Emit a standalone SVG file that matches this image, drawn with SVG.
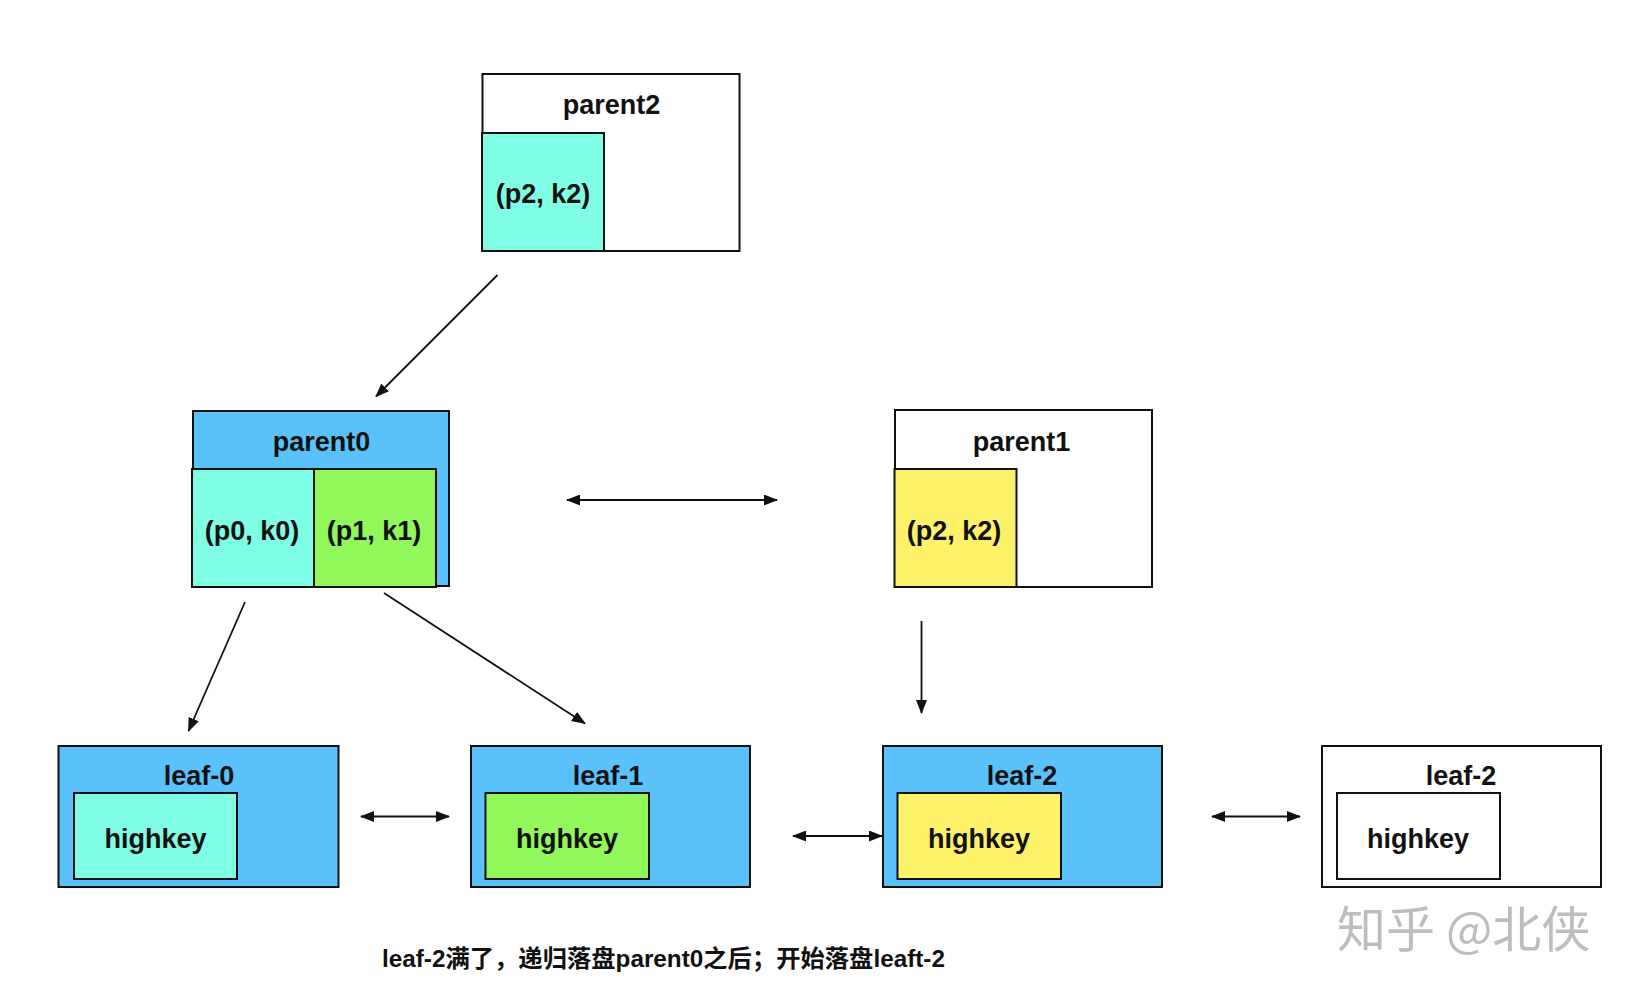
<svg xmlns="http://www.w3.org/2000/svg" width="1636" height="994" viewBox="0 0 1636 994">
<style>
.box{stroke:#111;stroke-width:2}
.lbl{font-family:"Liberation Sans",Arial,sans-serif;font-weight:bold;font-size:27px;fill:#111;text-anchor:middle}
.conn{stroke:#111;stroke-width:1.8;fill:none}
.cap{font-family:"Liberation Sans","Noto Sans CJK SC",sans-serif;font-weight:bold;font-size:24.3px;fill:#111}
.wm{font-family:"Noto Sans CJK SC",sans-serif;font-size:49px;fill:#bdbdbd}
</style>
<defs>
<marker id="ah" viewBox="0 0 14 11" refX="13" refY="5.5" markerWidth="14" markerHeight="11" markerUnits="userSpaceOnUse" orient="auto-start-reverse">
<path d="M0,0 L14,5.5 L0,11 Z" fill="#111"/>
</marker>
</defs>
<rect width="1636" height="994" fill="#fff"/>

<g id="parent2">
<rect class="box" x="482.5" y="74" width="257" height="177" fill="#fff"/>
<rect class="box" x="482" y="133" width="122" height="118" fill="#7ffde5"/>
<text class="lbl" x="611.5" y="114">parent2</text>
<text class="lbl" x="543" y="203">(p2, k2)</text>
</g>

<g id="parent0">
<rect class="box" x="193" y="411" width="256" height="175" fill="#5bc1fa"/>
<rect class="box" x="192" y="469" width="122" height="118" fill="#7ffde5"/>
<rect class="box" x="314" y="469" width="122" height="118" fill="#91f75b"/>
<text class="lbl" x="321.5" y="451">parent0</text>
<text class="lbl" x="252" y="540">(p0, k0)</text>
<text class="lbl" x="374" y="540">(p1, k1)</text>
</g>

<g id="parent1">
<rect class="box" x="895" y="410" width="257" height="177" fill="#fff"/>
<rect class="box" x="894.5" y="469" width="122" height="118" fill="#fef26a"/>
<text class="lbl" x="1021.5" y="451">parent1</text>
<text class="lbl" x="954" y="540">(p2, k2)</text>
</g>

<g id="leaf0">
<rect class="box" x="58.5" y="746" width="280" height="141" fill="#5bc1fa"/>
<rect class="box" x="74" y="793" width="163" height="86" fill="#7ffde5"/>
<text class="lbl" x="199" y="785">leaf-0</text>
<text class="lbl" x="155.5" y="848">highkey</text>
</g>

<g id="leaf1">
<rect class="box" x="471" y="746" width="279" height="141" fill="#5bc1fa"/>
<rect class="box" x="485.5" y="793" width="163.5" height="86" fill="#91f75b"/>
<text class="lbl" x="608" y="785">leaf-1</text>
<text class="lbl" x="567" y="848">highkey</text>
</g>

<g id="leaf2">
<rect class="box" x="883" y="746" width="279" height="141" fill="#5bc1fa"/>
<rect class="box" x="897.5" y="793" width="163.5" height="86" fill="#fef26a"/>
<text class="lbl" x="1022" y="785">leaf-2</text>
<text class="lbl" x="979" y="848">highkey</text>
</g>

<g id="leaf2new">
<rect class="box" x="1322" y="746" width="279" height="141" fill="#fff"/>
<rect class="box" x="1337" y="793" width="163" height="86" fill="#fff"/>
<text class="lbl" x="1461" y="785">leaf-2</text>
<text class="lbl" x="1418" y="848">highkey</text>
</g>

<g id="connectors">
<line class="conn" x1="497.5" y1="275" x2="376" y2="396.5" marker-end="url(#ah)"/>
<line class="conn" x1="567" y1="500" x2="777" y2="500" marker-start="url(#ah)" marker-end="url(#ah)"/>
<line class="conn" x1="245" y1="602" x2="188.5" y2="731" marker-end="url(#ah)"/>
<line class="conn" x1="384" y1="593" x2="585" y2="723.5" marker-end="url(#ah)"/>
<line class="conn" x1="921.5" y1="621" x2="921.5" y2="713" marker-end="url(#ah)"/>
<line class="conn" x1="361" y1="816.5" x2="449" y2="816.5" marker-start="url(#ah)" marker-end="url(#ah)"/>
<line class="conn" x1="793" y1="836" x2="882" y2="836" marker-start="url(#ah)" marker-end="url(#ah)"/>
<line class="conn" x1="1212" y1="816.5" x2="1300" y2="816.5" marker-start="url(#ah)" marker-end="url(#ah)"/>
</g>

<text class="cap" x="382" y="967">leaf-2满了，递归落盘parent0之后；开始落盘leaft-2</text>
<text class="wm" x="1337" y="947">知乎 @北侠</text>
</svg>
